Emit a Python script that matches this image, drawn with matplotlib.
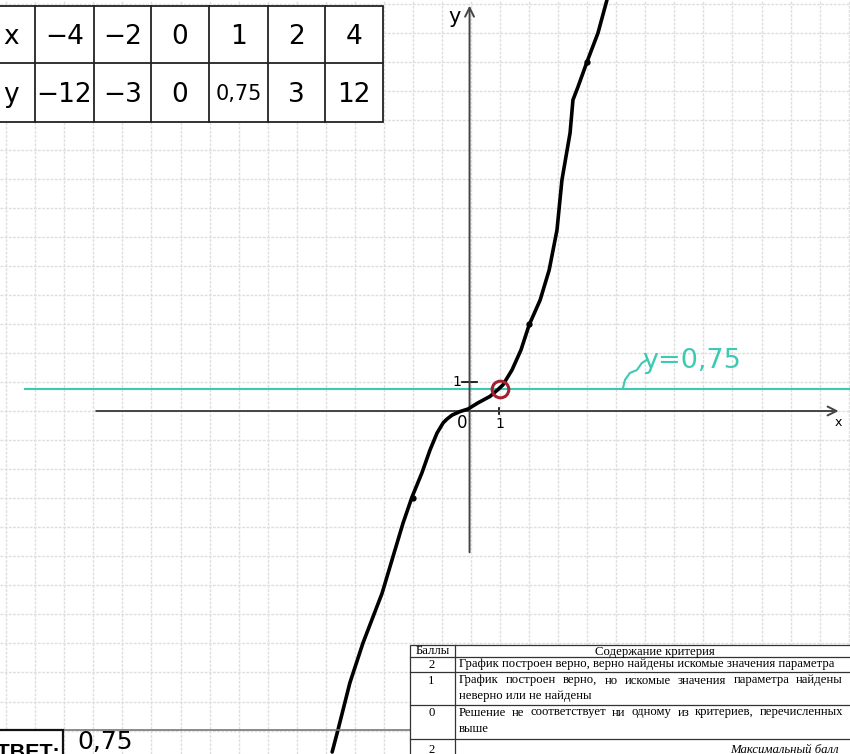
import numpy as np
import matplotlib
matplotlib.use("Agg")
import matplotlib.pyplot as plt
from matplotlib.patches import Rectangle

# ---------------- data ----------------
table_row_names = ["x", "y"]
table_x = ["−4", "−2", "0", "1", "2", "4"]
table_y = ["−12", "−3", "0", "0,75", "3", "12"]

# hand-drawn curve (data units)
curve_x = [-4.78, -4.58, -4.17, -3.72, -3.06, -2.69, -2.34, -2.03, -1.69, -1.41,
           -1.17, -0.96, -0.83, -0.65, -0.38, -0.10, 0.24, 0.65, 0.93, 1.10,
           1.41, 1.72, 2.00, 2.38, 2.69, 2.96, 3.13, 3.41, 3.51, 3.68, 3.99,
           4.37, 4.68]
curve_y = [-11.74, -10.98, -9.36, -7.99, -6.27, -5.03, -3.86, -2.96, -2.13, -1.34,
           -0.76, -0.41, -0.28, -0.14, -0.02, 0.07, 0.28, 0.50, 0.74, 0.90,
           1.41, 2.10, 2.96, 3.82, 4.85, 6.23, 7.95, 9.57, 10.71, 11.15, 12.01,
           13.01, 14.15]
dot_x = [-2, 2, 4]
dot_y = [-3, 3, 12]
param_value = 0.75
answer_x = 1
param_label = "y=0,75"
answer_text = "0,75"

crit_header = ["Баллы", "Содержание критерия"]
crit_points = ["2", "1", "0", "2"]
crit_lines = [
    ["График построен верно, верно найдены искомые значения параметра"],
    ["График построен верно, но искомые значения параметра найдены",
     "неверно или не найдены"],
    ["Решение не соответствует ни одному из критериев, перечисленных",
     "выше"],
    ["Максимальный балл"],
]

# ---------------- figure ----------------
W, H = 850, 754
fig = plt.figure(figsize=(W / 100, H / 100), dpi=100)
ax = fig.add_axes([0, 0, 1, 1])
unit = 29.05
x0p, y0p = 471.0, 411.0
ax.set_xlim(-x0p / unit, (W - x0p) / unit)
ax.set_ylim((y0p - H) / unit, y0p / unit)
ax.set_xticks(np.arange(-16, 14))
ax.set_yticks(np.arange(-11, 15))
ax.grid(True, color="#dedede", lw=1.0, linestyle=(0, (2, 1)))
ax.tick_params(length=0, labelbottom=False, labelleft=False)
for s in ax.spines.values():
    s.set_visible(False)

# axes with arrows
ax.annotate("", xy=(12.75, 0), xytext=(-13.0, 0),
            arrowprops=dict(arrowstyle="->", lw=1.4, color="#444444",
                            mutation_scale=16))
ax.annotate("", xy=(-0.05, 14.05), xytext=(-0.05, -4.96),
            arrowprops=dict(arrowstyle="->", lw=1.4, color="#444444",
                            mutation_scale=16))
ax.text(-0.55, 13.55, "y", fontsize=15, ha="center", va="center")
ax.text(12.65, -0.38, "x", fontsize=9, ha="center", va="center")
ax.text(-0.3, -0.4, "0", fontsize=12, ha="center", va="center")
ax.text(0.98, -0.45, "1", fontsize=10, ha="center", va="center")
ax.plot([0.98, 0.98], [-0.12, 0.12], color="black", lw=1.2)
ax.text(-0.5, 1.0, "1", fontsize=10, ha="center", va="center")
ax.plot([-0.3, 0.2], [1.0, 1.0], color="black", lw=1.2)

# parameter line
teal = "#3ccbb2"
ax.axhline(param_value, xmin=25 / W, xmax=1, color=teal, lw=1.5)
ax.text(7.6, 1.72, param_label, color=teal, fontsize=19.5, ha="center",
        va="center")
sq_x = [5.23, 5.30, 5.47, 5.71, 5.88, 6.05]
sq_y = [0.78, 1.07, 1.31, 1.41, 1.65, 1.76]
ax.plot(sq_x, sq_y, color=teal, lw=1.5, solid_capstyle="round")

# curve
ax.plot(curve_x, curve_y, color="black", lw=2.6, solid_joinstyle="round",
        solid_capstyle="round", zorder=5)
ax.plot(dot_x, dot_y, "o", color="black", ms=3.5, zorder=6)
ax.plot([answer_x], [param_value], "o", ms=12, mfc="none", mec="#a3202e",
        mew=2.2, zorder=7)

# ---------------- overlay in pixel coordinates ----------------
ov = fig.add_axes([0, 0, 1, 1], facecolor="none")
ov.set_xlim(0, W)
ov.set_ylim(H, 0)
ov.axis("off")

# top-left table
col_edges = [-30, 35, 94, 151, 209, 268, 325, 383]
row_edges = [6, 63, 122]
ov.add_patch(Rectangle((col_edges[0], row_edges[0]),
                       col_edges[-1] - col_edges[0], row_edges[-1] - row_edges[0],
                       facecolor="white", edgecolor="#222222", lw=1.3, zorder=2))
for cx in col_edges[1:-1]:
    ov.plot([cx, cx], [row_edges[0], row_edges[-1]], color="#222222", lw=1.3, zorder=3)
ov.plot([col_edges[0], col_edges[-1]], [row_edges[1]] * 2, color="#222222", lw=1.3, zorder=3)
rows = [table_x, table_y]
for r, (name, vals) in enumerate(zip(table_row_names, rows)):
    cy = (row_edges[r] + row_edges[r + 1]) / 2 + 2
    ov.text(11, cy, name, fontsize=19, ha="center", va="center", zorder=4)
    for c, v in enumerate(vals):
        cx = (col_edges[c + 1] + col_edges[c + 2]) / 2
        fs = 15 if len(v) > 3 else 19
        ov.text(cx, cy, v, fontsize=fs, ha="center", va="center", zorder=4)

# answer box
ov.plot([0, 410], [730, 730], color="#777777", lw=1.2, zorder=2)
ov.add_patch(Rectangle((-5, 730), 68, 40, facecolor="white",
                       edgecolor="#111111", lw=1.6, zorder=3))
ov.text(60, 759, "ОТВЕТ:", fontsize=15.5, fontweight="bold",
        family="Liberation Sans", ha="right", va="baseline", zorder=4)
ov.text(77, 742, answer_text, fontsize=18, ha="left", va="center", zorder=4)

# criteria table
tl, tm, tr = 410, 455, 851
h_edges = [645, 657, 672, 705, 739, 770]
ov.add_patch(Rectangle((tl, h_edges[0]), tr - tl, h_edges[-1] - h_edges[0],
                       facecolor="white", edgecolor="#333333", lw=0.9, zorder=2))
ov.plot([tm, tm], [h_edges[0], h_edges[-1]], color="#333333", lw=0.9, zorder=3)
for hy in h_edges[1:-1]:
    ov.plot([tl, tr], [hy, hy], color="#333333", lw=0.9, zorder=3)

serif = "Liberation Serif"
fs_t = 9.2
ov.text((tl + tm) / 2, 651.5, crit_header[0], fontsize=fs_t, family=serif,
        ha="center", va="center", zorder=4)
ov.text((tm + tr) / 2 + 2, 651.5, crit_header[1], fontsize=fs_t, family=serif,
        ha="center", va="center", zorder=4)

fig.canvas.draw()
renderer = fig.canvas.get_renderer()


def justified(line, x_left, x_right, y):
    words = line.split(" ")
    widths = []
    for w in words:
        t = ov.text(0, 0, w, fontsize=fs_t, family=serif)
        bb = t.get_window_extent(renderer=renderer)
        widths.append(bb.width)
        t.remove()
    gap = (x_right - x_left - sum(widths)) / (len(words) - 1)
    x = x_left
    for w, wd in zip(words, widths):
        ov.text(x, y, w, fontsize=fs_t, family=serif, ha="left",
                va="center", zorder=4)
        x += wd + gap


row_first_y = [664.5, 680.5, 712.5, 750]
for i, (pt, lines) in enumerate(zip(crit_points, crit_lines)):
    y = row_first_y[i]
    ov.text((tl + tm) / 2 - 1, y, pt, fontsize=fs_t, family=serif,
            ha="center", va="center", zorder=4)
    if i == 3:
        ov.text(tr - 12, y, lines[0], fontsize=fs_t, family=serif,
                style="italic", ha="right", va="center", zorder=4)
        continue
    for k, ln in enumerate(lines):
        yy = y + k * 16
        if len(lines) > 1 and k == 0:
            justified(ln, tm + 4, tr - 8, yy)
        else:
            ov.text(tm + 4, yy, ln, fontsize=fs_t, family=serif,
                    ha="left", va="center", zorder=4)

fig.savefig("out.png", dpi=100)
